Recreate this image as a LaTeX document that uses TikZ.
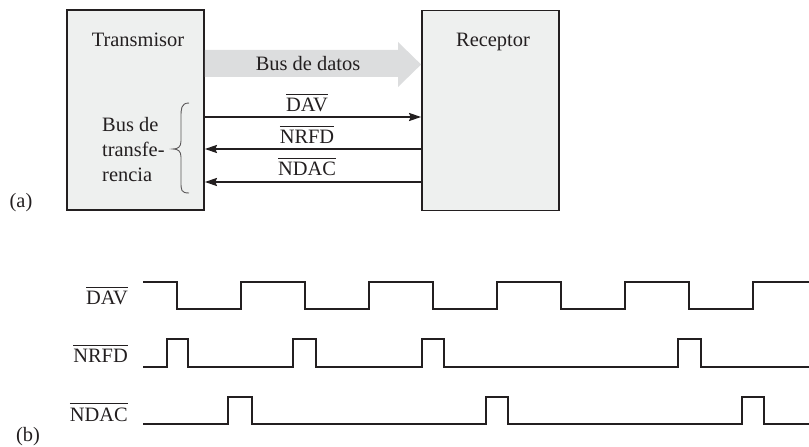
\documentclass[tikz,border=0pt]{standalone}
\usepackage{fontspec}
\setmainfont{Liberation Serif}
\usetikzlibrary{arrows.meta}
\definecolor{boxfill}{HTML}{EEF0EF}
\definecolor{busfill}{HTML}{DCDDDE}
\definecolor{ink}{HTML}{231F20}
\newsavebox\olbox
\newcommand{\olx}[1]{\sbox\olbox{#1}\rlap{\rule[\dimexpr\ht\olbox+3.5bp\relax]{\wd\olbox}{1.2bp}}\usebox\olbox}
\begin{document}
\begin{tikzpicture}[x=1bp,y=-1bp,
  txt/.style={inner sep=0pt,font=\fontsize{20.5}{24}\selectfont,text=ink},
  unit/.style={draw=ink,line width=1.8bp,fill=boxfill,minimum width=137bp,minimum height=200bp,inner sep=0pt},
  sig/.style={draw=ink,line width=2bp},
  tip/.style={-{Stealth[length=12bp,width=8bp,inset=1.5bp]}},
  wave/.style={draw=ink,line width=2.2bp,line join=miter}]
\useasboundingbox (0,0) rectangle (809,447);
% (a)
\node[unit] (tx) at (135.5,110) {};
\node[unit] (rx) at (490.5,110.5) {};
\node[txt,anchor=base] (txl) at (138,47) {Transmisor};
\node[txt,anchor=base] (rxl) at (493,47) {Receptor};
\fill[busfill] (tx.east |- 0,50) -- (398,50) -- (398,42) -- (rx.west |- 0,64.5) -- (398,87) -- (398,77) -- (tx.east |- 0,77) -- cycle;
\node[txt,anchor=base] (busd) at (308,71) {Bus de datos};
\draw[sig,tip] (tx.east |- 0,117) -- (rx.west |- 0,117);
\draw[sig,tip] (rx.west |- 0,149) -- (tx.east |- 0,149);
\draw[sig,tip] (rx.west |- 0,182) -- (tx.east |- 0,182);
\node[txt,anchor=base] (ldav) at (307,112) {\olx{DAV}};
\node[txt,anchor=base] (lnrfd) at (307,144) {\olx{NRFD}};
\node[txt,anchor=base] (lndac) at (307,176) {\olx{NDAC}};
\node[txt,anchor=base west] (bt1) at (102,132) {Bus de};
\node[txt,anchor=base west] (bt2) at (102,157) {transfe-};
\node[txt,anchor=base west] (bt3) at (102,182) {rencia};
\draw[ink!75,line width=0.9bp] (189,103) .. controls (181,103) and (181,109) .. (181,117) -- (181,141)
  .. controls (181,147) and (178,149) .. (173,149)
  .. controls (178,149) and (181,151) .. (181,157) -- (181,182)
  .. controls (181,190) and (181,193) .. (189,193);
\node[txt,anchor=base] (la) at (21,208) {(a)};
% (b)
\node[txt,anchor=base east] (wdav) at (128,305) {\olx{DAV}};
\node[txt,anchor=base east] (wnrfd) at (128,363) {\olx{NRFD}};
\node[txt,anchor=base east] (wndac) at (128,421) {\olx{NDAC}};
\node[txt,anchor=base] (lb) at (28,441) {(b)};
\draw[wave] (143,282) -- (177,282) -- (177,309) -- (241,309) -- (241,282) -- (305,282) -- (305,309) -- (369,309) -- (369,282) -- (433,282) -- (433,309) -- (497,309) -- (497,282) -- (561,282) -- (561,309) -- (625,309) -- (625,282) -- (689,282) -- (689,309) -- (753,309) -- (753,282) -- (809,282);
\draw[wave] (143,367) -- (167,367) -- (167,339) -- (188,339) -- (188,367) -- (293,367) -- (293,339) -- (316,339) -- (316,367) -- (422,367) -- (422,339) -- (444,339) -- (444,367) -- (678,367) -- (678,339) -- (701,339) -- (701,367) -- (809,367);
\draw[wave] (143,424) -- (228,424) -- (228,397) -- (252,397) -- (252,424) -- (486,424) -- (486,397) -- (508,397) -- (508,424) -- (742,424) -- (742,397) -- (764,397) -- (764,424) -- (809,424);
\end{tikzpicture}
\end{document}
